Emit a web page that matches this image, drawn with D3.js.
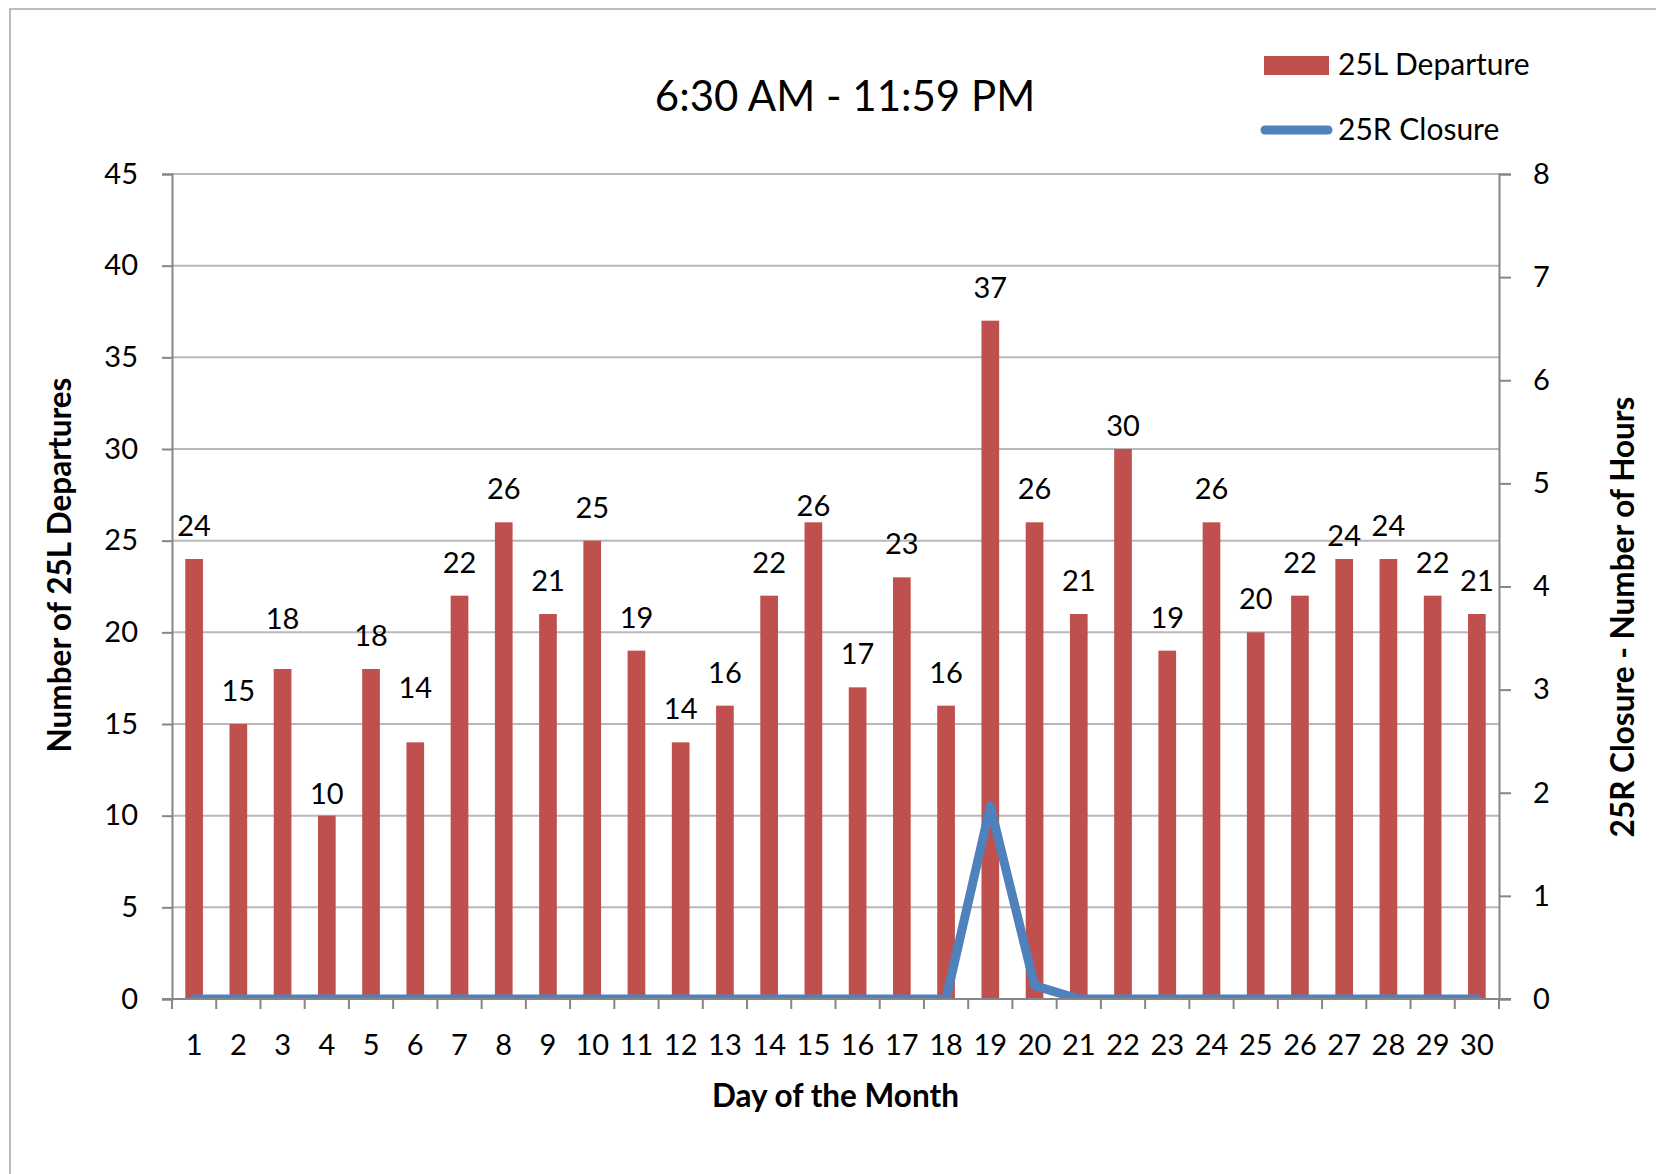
<!DOCTYPE html>
<html>
<head>
	<title>25L Departures</title>
	<script src="https://d3js.org/d3.v7.min.js"></script>
	<style>
		body { margin: 0; background: #fff; }
		text { font-family: Lato, "Open Sans", sans-serif; fill: #000; }
	</style>
</head>
<body>
<section id="container"></section>
<script>
//Chart data
var days = d3.range(1, 31);
var departures = [24,15,18,10,18,14,22,26,21,25,19,14,16,22,26,17,23,16,37,26,21,30,19,26,20,22,24,24,22,21];
var closureHours = [0,0,0,0,0,0,0,0,0,0,0,0,0,0,0,0,0,0,1.87,0.13,0,0,0,0,0,0,0,0,0,0];
var leftTicks = [0,5,10,15,20,25,30,35,40,45];
var rightTicks = [0,1,2,3,4,5,6,7,8];

//Hand placed data labels in the original (pixels up from default)
var labelNudge = {3: 17, 4: -11, 6: 21, 15: -17, 22: -10, 27: -10};

var W = 1656, H = 1174;
var plot = {left: 172, right: 1499, top: 174, bottom: 999};

var svg = d3.select("#container")
	.append("svg")
	.attr("width", W)
	.attr("height", H);

//Outer chart border (runs off the right and bottom edges)
svg.append("rect")
	.attr("x", 10)
	.attr("y", 9)
	.attr("width", W)
	.attr("height", H)
	.attr("fill", "none")
	.attr("stroke", "#a6a6a6")
	.attr("stroke-width", 1.5);

//Scales
var x = d3.scaleBand()
	.domain(days)
	.range([plot.left, plot.right])
	.paddingInner(0.6)
	.paddingOuter(0.3);

var yLeft = d3.scaleLinear()
	.domain([0, 45])
	.range([plot.bottom, plot.top]);

var yRight = d3.scaleLinear()
	.domain([0, 8])
	.range([plot.bottom, plot.top]);

var step = x.step();

//Gridlines
svg.append("g")
	.selectAll("line")
	.data(leftTicks.slice(1))
	.enter().append("line")
	.attr("x1", plot.left)
	.attr("x2", plot.right)
	.attr("y1", function(d) { return yLeft(d); })
	.attr("y2", function(d) { return yLeft(d); })
	.attr("stroke", "#b8b8b8")
	.attr("stroke-width", 2);

//Bars
svg.append("g")
	.selectAll("rect")
	.data(departures)
	.enter().append("rect")
	.attr("x", function(d, i) { return x(days[i]); })
	.attr("y", function(d) { return yLeft(d); })
	.attr("width", x.bandwidth())
	.attr("height", function(d) { return yLeft(0) - yLeft(d); })
	.attr("fill", "#c0504d");

//Bar value labels
svg.append("g")
	.selectAll("text")
	.data(departures)
	.enter().append("text")
	.attr("x", function(d, i) { return x(days[i]) + x.bandwidth() / 2; })
	.attr("y", function(d, i) { return yLeft(d) - 23 - (labelNudge[days[i]] || 0); })
	.attr("text-anchor", "middle")
	.style("font-size", "29px")
	.text(function(d) { return d; });

//Closure line, clipped to the plot area like the original
var defs = svg.append("defs");
defs.append("clipPath")
	.attr("id", "plotClip")
	.append("rect")
	.attr("x", plot.left)
	.attr("y", plot.top)
	.attr("width", plot.right - plot.left)
	.attr("height", plot.bottom - plot.top);

var line = d3.line()
	.x(function(d, i) { return x(days[i]) + x.bandwidth() / 2; })
	.y(function(d) { return yRight(d); });

svg.append("path")
	.datum(closureHours)
	.attr("d", line)
	.attr("clip-path", "url(#plotClip)")
	.attr("fill", "none")
	.attr("stroke", "#4f81bd")
	.attr("stroke-width", 9)
	.attr("stroke-linejoin", "round")
	.attr("stroke-linecap", "round");

//Axes
var axisColor = "#868686";

var leftAxis = svg.append("g")
	.attr("transform", "translate(" + plot.left + ",0)")
	.call(d3.axisLeft(yLeft).tickValues(leftTicks).tickSize(10).tickPadding(24));

var rightAxis = svg.append("g")
	.attr("transform", "translate(" + plot.right + ",0)")
	.call(d3.axisRight(yRight).tickValues(rightTicks).tickSize(12).tickPadding(22));

[leftAxis, rightAxis].forEach(function(a) {
	a.select(".domain").attr("stroke", axisColor).attr("stroke-width", 2);
	a.selectAll(".tick line").attr("stroke", axisColor).attr("stroke-width", 2);
	a.selectAll(".tick text")
		.style("font-family", "Lato, sans-serif")
		.style("font-size", "29px")
		.attr("fill", "#000");
});

//Bottom axis: ticks sit between the days
var bottom = svg.append("g");
bottom.append("line")
	.attr("x1", plot.left - 10)
	.attr("x2", plot.right + 12)
	.attr("y1", plot.bottom)
	.attr("y2", plot.bottom)
	.attr("stroke", axisColor)
	.attr("stroke-width", 2);

bottom.selectAll("line.tick")
	.data(d3.range(0, days.length + 1))
	.enter().append("line")
	.attr("class", "tick")
	.attr("x1", function(d) { return plot.left + d * step; })
	.attr("x2", function(d) { return plot.left + d * step; })
	.attr("y1", plot.bottom)
	.attr("y2", plot.bottom + 10)
	.attr("stroke", axisColor)
	.attr("stroke-width", 2);

bottom.selectAll("text")
	.data(days)
	.enter().append("text")
	.attr("x", function(d) { return x(d) + x.bandwidth() / 2; })
	.attr("y", 1055)
	.attr("text-anchor", "middle")
	.style("font-size", "29px")
	.text(function(d) { return d; });

//Axis titles
svg.append("text")
	.attr("x", (plot.left + plot.right) / 2)
	.attr("y", 1107)
	.attr("text-anchor", "middle")
	.style("font-size", "31.5px")
	.style("font-weight", "bold")
	.text("Day of the Month");

svg.append("text")
	.attr("transform", "translate(71,565) rotate(-90)")
	.attr("text-anchor", "middle")
	.style("font-size", "31.5px")
	.style("font-weight", "bold")
	.text("Number of 25L Departures");

svg.append("text")
	.attr("transform", "translate(1634,617) rotate(-90)")
	.attr("text-anchor", "middle")
	.style("font-size", "31.5px")
	.style("font-weight", "bold")
	.text("25R Closure - Number of Hours");

//Chart title
svg.append("text")
	.attr("x", 845)
	.attr("y", 111)
	.attr("text-anchor", "middle")
	.style("font-size", "42px")
	.text("6:30 AM - 11:59 PM");

//Legend
var legend = svg.append("g");
legend.append("rect")
	.attr("x", 1264)
	.attr("y", 56)
	.attr("width", 65)
	.attr("height", 19)
	.attr("fill", "#c0504d");
legend.append("text")
	.attr("x", 1338)
	.attr("y", 75)
	.style("font-size", "30px")
	.text("25L Departure");
legend.append("line")
	.attr("x1", 1265)
	.attr("x2", 1328)
	.attr("y1", 130)
	.attr("y2", 130)
	.attr("stroke", "#4f81bd")
	.attr("stroke-width", 9)
	.attr("stroke-linecap", "round");
legend.append("text")
	.attr("x", 1338)
	.attr("y", 140)
	.style("font-size", "30px")
	.text("25R Closure");
</script>
</body>
</html>
